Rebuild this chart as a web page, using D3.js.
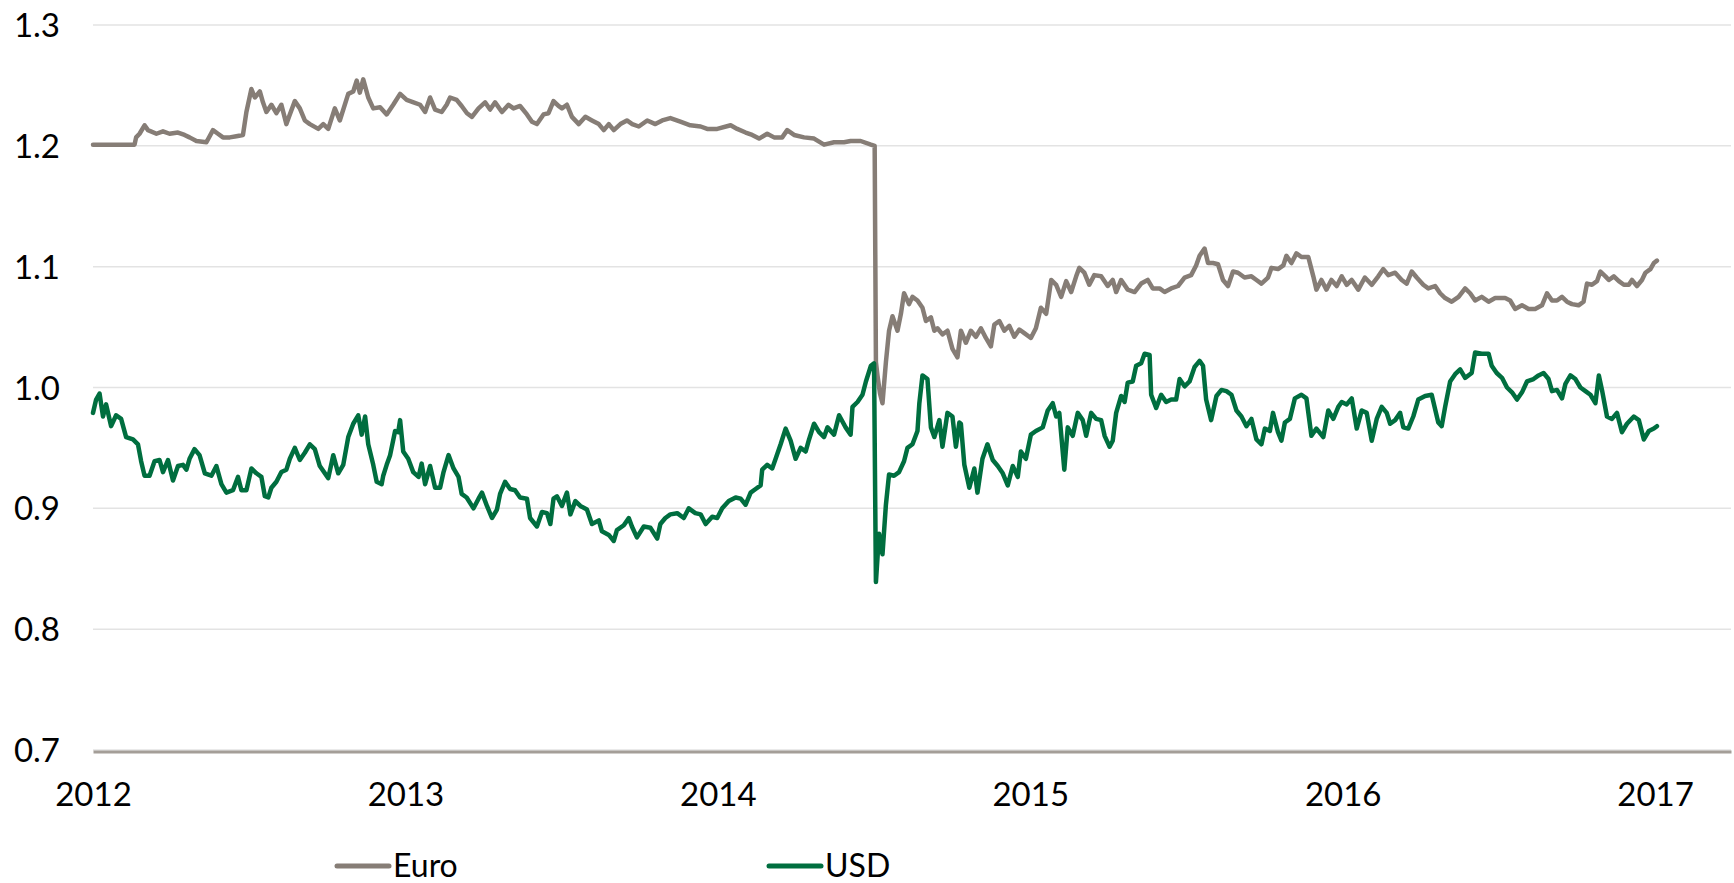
<!DOCTYPE html>
<html>
<head>
<meta charset="utf-8">
<script src="https://cdn.jsdelivr.net/npm/d3@7"></script>
<style>
  html, body { margin: 0; padding: 0; background: #ffffff; }
  svg { display: block; }
  text { font-family: Lato, "Noto Sans", sans-serif; fill: #000; }
</style>
</head>
<body>
<svg id="chart" width="1734" height="883"></svg>
<script>
// ---- data (x = position in years on the chart's axis) ----
const xTicks = [2012, 2013, 2014, 2015, 2016, 2017];
const yTicks = [0.7, 0.8, 0.9, 1.0, 1.1, 1.2, 1.3];
const seriesNames = ["Euro", "USD"];

const euro = [
[2012.000,1.201],[2012.133,1.201],[2012.138,1.207],[2012.149,1.210],[2012.165,1.217],[2012.176,1.213],[2012.203,1.210],[2012.224,1.212],[2012.245,1.210],[2012.272,1.211],[2012.293,1.209],[2012.309,1.207],[2012.331,1.204],[2012.363,1.203],[2012.384,1.213],[2012.400,1.210],[2012.416,1.207],[2012.438,1.207],[2012.459,1.208],[2012.480,1.209],[2012.491,1.228],[2012.507,1.247],[2012.518,1.240],[2012.534,1.245],[2012.544,1.236],[2012.555,1.228],[2012.571,1.234],[2012.587,1.227],[2012.603,1.234],[2012.619,1.218],[2012.630,1.226],[2012.646,1.237],[2012.662,1.231],[2012.678,1.221],[2012.694,1.218],[2012.721,1.214],[2012.737,1.218],[2012.753,1.214],[2012.774,1.231],[2012.790,1.221],[2012.817,1.243],[2012.833,1.245],[2012.844,1.254],[2012.854,1.244],[2012.865,1.255],[2012.881,1.240],[2012.897,1.231],[2012.919,1.232],
[2012.940,1.226],[2012.961,1.234],[2012.983,1.243],[2013.004,1.238],[2013.026,1.236],[2013.047,1.234],[2013.063,1.228],[2013.079,1.240],[2013.095,1.230],[2013.116,1.228],[2013.132,1.234],[2013.143,1.240],[2013.164,1.238],[2013.180,1.233],[2013.197,1.227],[2013.213,1.224],[2013.234,1.231],[2013.255,1.236],[2013.271,1.230],[2013.287,1.236],[2013.309,1.228],[2013.330,1.234],[2013.346,1.231],[2013.367,1.233],[2013.389,1.226],[2013.405,1.220],[2013.421,1.218],[2013.442,1.226],[2013.458,1.227],[2013.474,1.237],[2013.490,1.233],[2013.501,1.231],[2013.517,1.234],[2013.533,1.224],[2013.555,1.218],[2013.576,1.224],[2013.597,1.221],[2013.619,1.218],[2013.635,1.213],[2013.651,1.218],[2013.667,1.213],[2013.688,1.218],[2013.709,1.221],[2013.726,1.218],[2013.747,1.216],[2013.774,1.221],[2013.800,1.218],[2013.822,1.221],[2013.848,1.223],
[2013.880,1.220],[2013.912,1.217],[2013.945,1.216],[2013.966,1.214],[2013.998,1.214],[2014.041,1.217],[2014.062,1.214],[2014.089,1.211],[2014.110,1.209],[2014.132,1.206],[2014.158,1.210],[2014.180,1.207],[2014.206,1.207],[2014.222,1.213],[2014.244,1.209],[2014.276,1.207],[2014.308,1.206],[2014.340,1.201],[2014.372,1.203],[2014.404,1.203],[2014.425,1.204],[2014.457,1.204],[2014.490,1.201],[2014.502,1.200],[2014.506,1.021],[2014.511,1.010],[2014.519,0.995],[2014.527,0.987],[2014.538,1.021],[2014.548,1.047],[2014.559,1.059],[2014.575,1.047],[2014.586,1.061],[2014.596,1.078],[2014.612,1.069],[2014.623,1.075],[2014.639,1.072],[2014.655,1.066],[2014.666,1.055],[2014.682,1.058],[2014.693,1.047],[2014.703,1.049],[2014.719,1.044],[2014.735,1.047],[2014.751,1.032],[2014.767,1.025],
[2014.778,1.047],[2014.794,1.037],[2014.810,1.047],[2014.826,1.042],[2014.842,1.049],[2014.858,1.041],[2014.874,1.034],[2014.885,1.052],[2014.901,1.055],[2014.917,1.047],[2014.933,1.051],[2014.949,1.042],[2014.965,1.048],[2014.981,1.045],[2015.002,1.041],[2015.018,1.049],[2015.034,1.066],[2015.051,1.061],[2015.067,1.089],[2015.083,1.085],[2015.099,1.075],[2015.115,1.088],[2015.131,1.079],[2015.147,1.092],[2015.157,1.099],[2015.173,1.095],[2015.189,1.085],[2015.205,1.093],[2015.227,1.092],[2015.248,1.084],[2015.264,1.089],[2015.275,1.079],[2015.291,1.089],[2015.312,1.081],[2015.334,1.079],[2015.355,1.086],[2015.376,1.089],[2015.392,1.082],[2015.414,1.082],[2015.430,1.079],[2015.451,1.082],[2015.473,1.084],[2015.494,1.091],[2015.515,1.093],[2015.531,1.101],[2015.542,1.109],[2015.558,1.115],[2015.569,1.103],[2015.585,1.103],[2015.601,1.102],[2015.617,1.089],[2015.633,1.084],[2015.649,1.096],[2015.665,1.095],[2015.686,1.091],[2015.708,1.092],
[2015.724,1.089],[2015.740,1.086],[2015.761,1.091],[2015.772,1.099],[2015.793,1.098],[2015.810,1.101],[2015.820,1.109],[2015.836,1.103],[2015.852,1.111],[2015.868,1.108],[2015.890,1.108],[2015.906,1.092],[2015.916,1.081],[2015.932,1.089],[2015.948,1.081],[2015.964,1.089],[2015.981,1.084],[2015.997,1.092],[2016.013,1.085],[2016.029,1.089],[2016.050,1.081],[2016.071,1.091],[2016.093,1.085],[2016.114,1.092],[2016.130,1.098],[2016.146,1.093],[2016.168,1.095],[2016.189,1.089],[2016.205,1.086],[2016.221,1.096],[2016.237,1.091],[2016.258,1.085],[2016.274,1.082],[2016.296,1.084],[2016.312,1.078],[2016.328,1.074],[2016.349,1.071],[2016.371,1.075],[2016.392,1.082],[2016.408,1.078],[2016.424,1.072],[2016.445,1.075],[2016.467,1.071],[2016.488,1.074],[2016.520,1.074],[2016.536,1.072],[2016.552,1.065],[2016.574,1.068],[2016.595,1.065],[2016.616,1.065],[2016.638,1.068],[2016.654,1.078],[2016.670,1.072],
[2016.686,1.072],[2016.702,1.075],[2016.718,1.071],[2016.734,1.069],[2016.755,1.068],[2016.771,1.071],[2016.782,1.086],[2016.798,1.085],[2016.814,1.088],[2016.825,1.096],[2016.841,1.092],[2016.852,1.089],[2016.868,1.092],[2016.884,1.088],[2016.900,1.085],[2016.916,1.085],[2016.926,1.089],[2016.942,1.084],[2016.958,1.089],[2016.969,1.095],[2016.985,1.098],[2016.996,1.103],[2017.006,1.105]
];

const usd = [
[2012.000,0.979],[2012.010,0.990],[2012.021,0.995],[2012.032,0.976],[2012.042,0.986],[2012.058,0.968],[2012.074,0.977],[2012.090,0.974],[2012.106,0.959],[2012.128,0.957],[2012.144,0.953],[2012.154,0.939],[2012.165,0.927],[2012.181,0.927],[2012.197,0.939],[2012.213,0.940],[2012.224,0.930],[2012.240,0.940],[2012.256,0.923],[2012.272,0.935],[2012.288,0.936],[2012.299,0.932],[2012.309,0.941],[2012.325,0.949],[2012.341,0.944],[2012.358,0.929],[2012.379,0.927],[2012.395,0.935],[2012.411,0.920],[2012.427,0.913],[2012.448,0.915],[2012.464,0.926],[2012.475,0.915],[2012.491,0.915],[2012.507,0.933],[2012.523,0.929],[2012.539,0.926],[2012.550,0.910],[2012.561,0.909],[2012.571,0.917],[2012.587,0.922],[2012.603,0.930],[2012.619,0.932],[2012.630,0.941],[2012.646,0.950],[2012.662,0.940],[2012.678,0.946],[2012.694,0.953],[2012.710,0.949],[2012.726,0.935],[2012.753,0.925],[2012.769,0.944],[2012.785,0.929],[2012.801,0.936],[2012.817,0.959],[2012.833,0.970],[2012.849,0.977],[2012.860,0.961],[2012.871,0.976],[2012.881,0.953],[2012.897,0.936],[2012.908,0.922],[2012.924,0.920],
[2012.929,0.927],[2012.940,0.936],[2012.951,0.944],[2012.967,0.964],[2012.977,0.963],[2012.983,0.973],[2012.993,0.947],[2013.009,0.941],[2013.025,0.930],[2013.042,0.926],[2013.052,0.937],[2013.063,0.920],[2013.079,0.935],[2013.095,0.917],[2013.111,0.917],[2013.122,0.930],[2013.138,0.944],[2013.154,0.933],[2013.170,0.926],[2013.180,0.912],[2013.196,0.909],[2013.218,0.900],[2013.234,0.908],[2013.245,0.913],[2013.261,0.902],[2013.277,0.892],[2013.293,0.899],[2013.303,0.912],[2013.319,0.922],[2013.335,0.916],[2013.351,0.915],[2013.367,0.909],[2013.389,0.908],[2013.399,0.892],[2013.421,0.885],[2013.437,0.897],[2013.453,0.896],[2013.464,0.887],[2013.474,0.908],[2013.485,0.910],[2013.501,0.902],[2013.517,0.913],[2013.528,0.895],[2013.544,0.906],[2013.560,0.902],[2013.581,0.899],[2013.597,0.887],[2013.619,0.890],[2013.629,0.881],[2013.651,0.878],[2013.667,0.873],[2013.677,0.882],[2013.699,0.886],[2013.715,0.892],[2013.725,0.885],[2013.741,0.876],[2013.763,0.885],[2013.784,0.884],[2013.806,0.875],[2013.816,0.887],[2013.832,0.892],[2013.848,0.895],
[2013.870,0.896],[2013.891,0.892],[2013.907,0.900],[2013.928,0.896],[2013.945,0.895],[2013.961,0.887],[2013.982,0.893],[2013.998,0.892],[2014.014,0.900],[2014.035,0.906],[2014.057,0.909],[2014.073,0.908],[2014.089,0.903],[2014.105,0.913],[2014.121,0.916],[2014.137,0.919],[2014.142,0.932],[2014.158,0.936],[2014.174,0.933],[2014.185,0.941],[2014.201,0.953],[2014.217,0.966],[2014.233,0.956],[2014.249,0.941],[2014.265,0.950],[2014.281,0.947],[2014.292,0.957],[2014.308,0.970],[2014.324,0.963],[2014.340,0.959],[2014.351,0.967],[2014.372,0.961],[2014.388,0.977],[2014.409,0.967],[2014.425,0.961],[2014.431,0.984],[2014.447,0.988],[2014.463,0.994],[2014.474,1.005],[2014.490,1.018],[2014.500,1.020],[2014.506,0.839],[2014.516,0.879],[2014.527,0.862],[2014.538,0.903],[2014.548,0.928],[2014.564,0.927],[2014.580,0.930],[2014.596,0.939],[2014.607,0.950],[2014.623,0.953],[2014.639,0.964],[2014.645,0.987],[2014.655,1.010],[2014.671,1.007],[2014.682,0.967],[2014.693,0.959],[2014.709,0.973],[2014.719,0.951],[2014.735,0.979],[2014.751,0.976],[2014.762,0.951],[2014.773,0.971],
[2014.778,0.970],[2014.789,0.936],[2014.805,0.917],[2014.821,0.933],[2014.831,0.913],[2014.847,0.941],[2014.863,0.953],[2014.880,0.940],[2014.896,0.935],[2014.912,0.929],[2014.928,0.919],[2014.944,0.935],[2014.960,0.926],[2014.970,0.947],[2014.986,0.941],[2015.002,0.961],[2015.018,0.964],[2015.040,0.967],[2015.056,0.981],[2015.072,0.987],[2015.083,0.976],[2015.093,0.979],[2015.109,0.932],[2015.120,0.967],[2015.136,0.960],[2015.152,0.979],[2015.168,0.973],[2015.179,0.960],[2015.195,0.979],[2015.211,0.974],[2015.227,0.973],[2015.238,0.960],[2015.254,0.951],[2015.264,0.956],[2015.275,0.979],[2015.291,0.993],[2015.302,0.988],[2015.312,1.004],[2015.328,1.005],[2015.339,1.018],[2015.355,1.020],[2015.366,1.028],[2015.382,1.027],[2015.387,0.994],[2015.403,0.983],[2015.419,0.994],[2015.435,0.988],[2015.451,0.990],[2015.467,0.990],[2015.478,1.007],[2015.494,1.001],[2015.510,1.005],[2015.526,1.017],[2015.542,1.022],[2015.553,1.018],[2015.563,0.990],[2015.579,0.973],[2015.596,0.993],[2015.612,0.998],[2015.628,0.997],[2015.644,0.994],[2015.660,0.981],[2015.676,0.976],[2015.692,0.968],[2015.708,0.974],
[2015.724,0.957],[2015.740,0.953],[2015.751,0.966],[2015.767,0.964],[2015.777,0.979],[2015.793,0.963],[2015.804,0.956],[2015.815,0.971],[2015.831,0.974],[2015.847,0.991],[2015.868,0.994],[2015.884,0.991],[2015.900,0.960],[2015.916,0.966],[2015.938,0.959],[2015.954,0.981],[2015.970,0.974],[2015.986,0.984],[2015.997,0.988],[2016.013,0.986],[2016.029,0.991],[2016.045,0.966],[2016.061,0.981],[2016.077,0.979],[2016.093,0.956],[2016.109,0.974],[2016.125,0.984],[2016.141,0.979],[2016.152,0.970],[2016.168,0.973],[2016.184,0.979],[2016.194,0.967],[2016.210,0.966],[2016.226,0.976],[2016.242,0.990],[2016.264,0.993],[2016.285,0.994],[2016.306,0.971],[2016.317,0.968],[2016.328,0.984],[2016.344,1.005],[2016.360,1.011],[2016.376,1.015],[2016.392,1.008],[2016.413,1.012],[2016.424,1.029],[2016.445,1.028],[2016.467,1.028],[2016.477,1.018],[2016.493,1.012],[2016.510,1.008],[2016.526,1.000],[2016.542,0.996],[2016.558,0.990],[2016.574,0.996],[2016.590,1.005],[2016.611,1.007],[2016.627,1.010],[2016.643,1.012],[2016.659,1.007],[2016.670,0.997],
[2016.686,0.998],[2016.702,0.991],[2016.713,1.003],[2016.729,1.010],[2016.745,1.007],[2016.761,1.000],[2016.777,0.997],[2016.793,0.994],[2016.809,0.987],[2016.820,1.010],[2016.830,0.998],[2016.846,0.976],[2016.862,0.974],[2016.878,0.979],[2016.894,0.963],[2016.910,0.970],[2016.932,0.976],[2016.948,0.973],[2016.964,0.957],[2016.980,0.964],[2016.996,0.966],[2017.006,0.968]
];

// ---- layout / style ----
const colors = { Euro: "#867d76", USD: "#006e3f" };
const svg = d3.select("#chart");

const x = d3.scaleLinear().domain([2012, 2017.243]).range([93, 1731]);
const y = d3.scaleLinear().domain([0.7, 1.3]).range([750, 25]);

// gridlines
svg.append("g")
  .selectAll("line")
  .data(yTicks)
  .join("line")
  .attr("x1", x.range()[0]).attr("x2", x.range()[1])
  .attr("y1", d => y(d)).attr("y2", d => y(d))
  .attr("stroke", "#e3e3e3").attr("stroke-width", 1.5);

// y axis labels
const yAxis = d3.axisLeft(y).tickValues(yTicks).tickFormat(d3.format(".1f")).tickSize(0).tickPadding(0);
const gy = svg.append("g").attr("transform", "translate(60,0)").call(yAxis);
gy.select(".domain").remove();
gy.selectAll("text").attr("font-size", 33).attr("font-family", "Lato, sans-serif").attr("fill", "#000").attr("dy", "0.35em");

// x axis
const xAxis = d3.axisBottom(x).tickValues(xTicks).tickFormat(d3.format("d")).tickSize(0).tickPadding(0);
const gx = svg.append("g").attr("transform", `translate(0,${y(0.7) + 1.5})`).call(xAxis);
gx.select(".domain").attr("stroke", "#a49e98").attr("stroke-width", 3);
gx.selectAll("text").attr("font-size", 33).attr("font-family", "Lato, sans-serif").attr("fill", "#000")
  .attr("dy", 0).attr("y", 54);

// lines
const line = d3.line().x(d => x(d[0])).y(d => y(d[1]));
const seriesData = { Euro: euro, USD: usd };
seriesNames.forEach(name => {
  svg.append("path")
    .datum(seriesData[name])
    .attr("fill", "none")
    .attr("stroke", colors[name])
    .attr("stroke-width", 4.5)
    .attr("stroke-linejoin", "round")
    .attr("stroke-linecap", "round")
    .attr("d", line);
});

// legend
const legendX = { Euro: 335, USD: 767 };
const lg = svg.append("g");
seriesNames.forEach(name => {
  const g = lg.append("g").attr("transform", `translate(${legendX[name]},866)`);
  g.append("line").attr("x1", 2).attr("x2", 54).attr("y1", 0).attr("y2", 0)
    .attr("stroke", colors[name]).attr("stroke-width", 5).attr("stroke-linecap", "round");
  g.append("text").attr("x", 58).attr("y", 11).attr("font-size", 32).text(name);
});
</script>
</body>
</html>
